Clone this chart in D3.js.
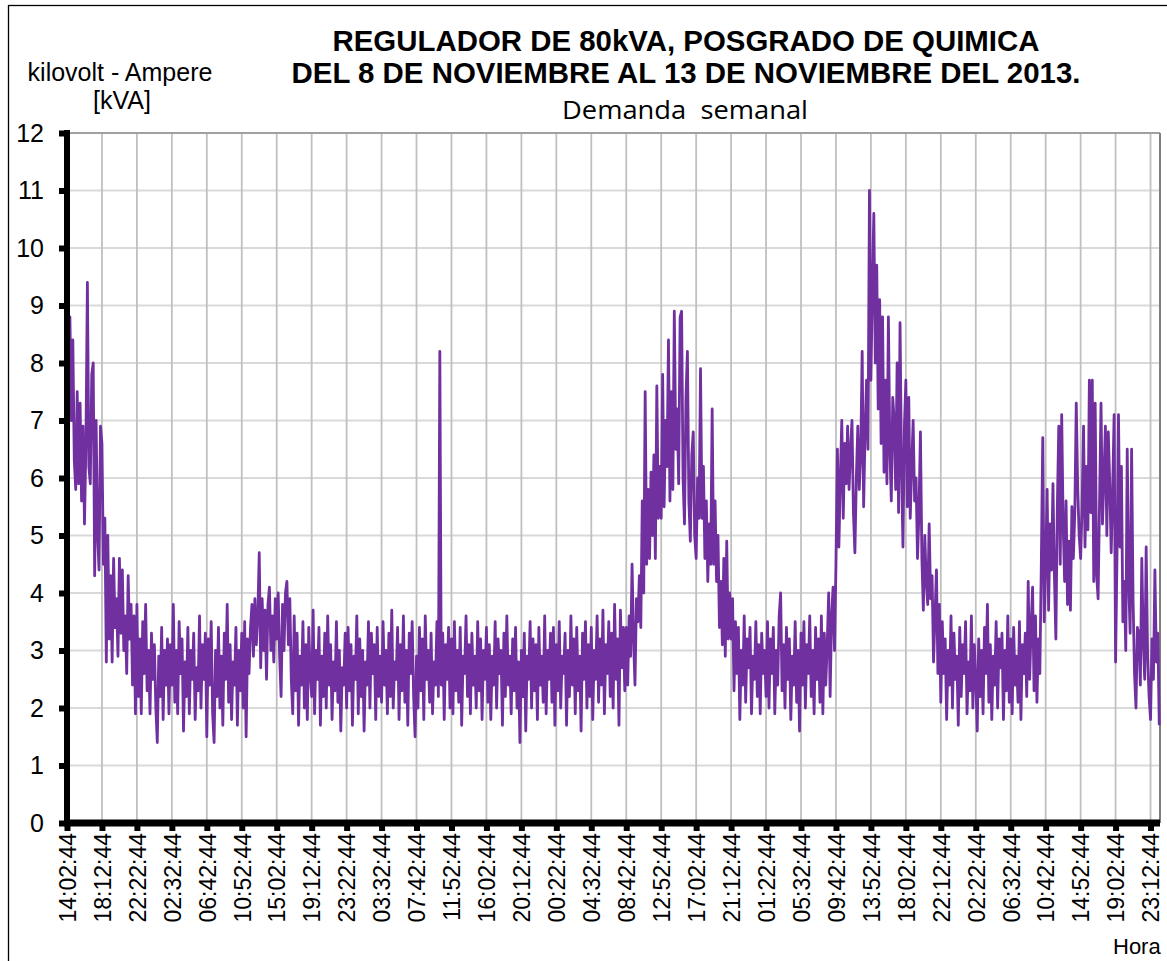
<!DOCTYPE html>
<html>
<head>
    <meta charset="utf-8">
    <title>Regulador 80kVA</title>
    <script src="https://d3js.org/d3.v7.min.js"></script>
    <style>
        body { margin: 0; background: #fff; }
        text { font-family: "Liberation Sans", Arial, sans-serif; fill: #000; }
    </style>
</head>
<body>
    <div id="container"></div>
    <script>
        //------------------------------DATA------------------------------//
        // etiquetas del eje horizontal (una cada 24 muestras)
        var etiquetasHora = ["14:02:44", "18:12:44", "22:22:44", "02:32:44", "06:42:44", "10:52:44",
            "15:02:44", "19:12:44", "23:22:44", "03:32:44", "07:42:44", "11:52:44",
            "16:02:44", "20:12:44", "00:22:44", "04:32:44", "08:42:44", "12:52:44",
            "17:02:44", "21:12:44", "01:22:44", "05:32:44", "09:42:44", "13:52:44",
            "18:02:44", "22:12:44", "02:22:44", "06:32:44", "10:42:44", "14:52:44",
            "19:02:44", "23:12:44"]
        var muestrasPorEtiqueta = 24
        var ticksKva = [0, 1, 2, 3, 4, 5, 6, 7, 8, 9, 10, 11, 12]

        // demanda en kVA (una fila por intervalo entre etiquetas)
        var kvaTramo1 = [
            7.5, 6.5, 8.8, 7.0, 8.4, 6.3, 5.8, 7.5, 5.9, 7.3, 5.6, 6.9, 5.2, 6.6, 9.4, 6.2, 5.9, 7.8, 8.0, 4.3, 7.0, 5.0, 4.4, 6.9,
            6.6, 4.5, 5.3, 2.8, 5.0, 3.2, 4.3, 2.8, 4.6, 3.4, 3.9, 2.9, 4.6, 3.3, 4.4, 3.0, 3.6, 2.6, 4.3, 3.2, 3.8, 2.4, 3.6, 1.9,
            3.8, 2.2, 3.2, 1.9, 3.5, 2.6, 3.8, 2.3, 3.0, 1.9, 3.3, 2.5, 3.1, 2.0, 1.4, 2.9, 2.2, 3.4, 1.8, 3.0, 2.4, 3.2, 1.9, 3.1,
            2.4, 3.8, 2.1, 3.0, 1.9, 3.5, 2.6, 3.2, 1.6, 2.8, 2.2, 3.4, 1.9, 3.0, 2.5, 3.3, 1.8, 2.7, 2.3, 3.6, 2.0, 3.1, 2.5, 3.3,
            1.5, 3.2, 2.4, 3.5, 1.9, 1.4, 3.0, 2.2, 3.4, 2.0, 2.9, 1.7, 3.3, 2.5, 3.8, 2.1, 3.1, 1.8, 2.8, 2.4, 3.4, 1.7, 3.0, 2.3,
            3.3, 2.0, 3.5, 1.5, 3.2, 2.6, 3.4, 3.8, 2.9, 3.9, 3.1, 3.6, 4.7, 2.7, 3.9, 3.0, 3.7, 2.5, 3.8, 4.1, 3.0, 3.6, 2.8, 3.9]
        var kvaTramo2 = [
            3.2, 4.0, 2.9, 2.2, 3.8, 3.0, 4.0, 4.2, 3.1, 3.9, 2.5, 1.9, 3.6, 2.3, 3.3, 1.7, 2.9, 2.4, 3.5, 2.0, 3.1, 1.8, 3.4, 2.6,
            2.2, 3.7, 1.9, 3.0, 2.5, 3.4, 1.7, 2.9, 2.2, 3.3, 2.0, 3.6, 2.4, 3.1, 1.8, 2.8, 2.3, 3.5, 2.1, 3.0, 1.6, 2.7, 2.4, 3.3,
            2.0, 3.4, 2.3, 3.1, 1.7, 2.9, 2.5, 3.6, 1.9, 3.2, 2.2, 3.0, 1.6, 2.8, 2.4, 3.5, 2.0, 3.3, 2.6, 3.1, 1.8, 3.4, 2.2, 2.9,
            2.1, 3.5, 2.4, 3.0, 1.9, 3.3, 2.2, 3.7, 2.0, 2.8, 2.5, 3.4, 1.8, 3.1, 2.3, 3.6, 2.1, 3.0, 1.7, 3.3, 2.6, 3.5, 2.2, 1.5,
            2.9, 2.0, 3.4, 2.3, 3.2, 1.8, 3.6, 2.5, 3.0, 2.1, 3.3, 1.9, 2.8, 2.4, 3.5, 2.2, 8.2, 2.4, 3.3, 1.8, 3.1, 2.5, 3.4, 2.0,
            3.2, 1.9, 3.5, 2.3, 3.0, 2.1, 3.4, 1.7, 2.9, 2.6, 3.6, 2.2, 3.1, 1.9, 3.3, 2.4, 2.9, 2.0, 3.5, 2.3, 3.2, 1.8, 3.0, 2.5]
        var kvaTramo3 = [
            3.4, 2.1, 3.1, 1.8, 2.9, 2.4, 3.5, 2.0, 3.2, 2.6, 3.0, 1.7, 3.3, 2.2, 3.6, 2.4, 2.9, 1.9, 3.2, 2.3, 3.4, 2.0, 2.8, 1.4,
            3.0, 2.2, 3.3, 1.6, 2.9, 2.5, 3.5, 2.0, 3.2, 2.3, 3.1, 1.8, 3.4, 2.4, 2.9, 2.1, 3.6, 1.9, 3.0, 2.5, 3.3, 2.1, 3.4, 1.7,
            3.1, 2.3, 3.5, 2.0, 2.9, 2.6, 3.3, 1.7, 3.0, 2.2, 3.6, 2.4, 3.2, 1.9, 3.4, 2.3, 2.9, 1.6, 3.3, 2.5, 3.5, 2.0, 3.1, 2.2,
            3.4, 1.8, 3.0, 2.5, 3.6, 2.1, 3.2, 2.4, 3.7, 1.9, 3.1, 2.6, 3.5, 2.2, 3.3, 2.0, 3.8, 2.5, 3.2, 1.7, 3.7, 2.7, 3.4, 2.3,
            3.4, 2.4, 3.6, 2.9, 4.5, 3.2, 2.4, 3.9, 3.5, 4.3, 3.4, 5.6, 4.0, 7.5, 4.5, 5.8, 4.6, 6.1, 5.0, 6.4, 4.6, 7.6, 5.3, 6.2,
            5.3, 7.8, 5.5, 7.0, 6.2, 8.4, 5.6, 7.5, 5.8, 8.9, 6.5, 7.2, 5.9, 8.8, 8.9, 6.0, 5.2, 7.4, 8.2, 5.6, 4.9, 6.4, 6.8, 5.0]
        var kvaTramo4 = [
            4.6, 6.0, 5.3, 7.9, 5.3, 6.2, 4.6, 5.6, 4.2, 5.2, 4.5, 7.2, 4.5, 5.6, 4.2, 5.0, 3.4, 4.2, 3.1, 4.6, 2.9, 4.9, 3.2, 4.0,
            3.2, 3.9, 2.3, 3.5, 2.6, 3.4, 1.8, 3.0, 2.4, 3.6, 2.1, 3.2, 2.7, 3.4, 1.9, 2.9, 2.5, 3.5, 2.2, 3.1, 1.9, 3.3, 2.6, 3.0,
            2.2, 3.5, 2.0, 3.2, 2.6, 3.4, 1.9, 3.0, 2.4, 3.6, 4.0, 2.3, 3.1, 2.0, 3.4, 2.5, 3.2, 1.8, 2.9, 2.4, 3.5, 2.1, 3.0, 1.6,
            3.3, 2.4, 3.5, 2.0, 3.1, 2.6, 3.6, 2.2, 3.0, 1.9, 3.4, 2.5, 3.2, 2.1, 3.6, 1.9, 3.3, 2.4, 3.1, 4.0, 2.2, 3.6, 4.1, 3.0,
            4.5, 6.5, 4.8, 6.0, 7.0, 5.3, 6.6, 5.9, 6.9, 5.8, 6.5, 7.0, 5.4, 4.7, 6.0, 6.9, 5.8, 6.4, 8.2, 5.5, 6.8, 7.7, 6.5, 11.0,
            7.7, 9.3, 10.6, 8.0, 9.7, 7.2, 9.1, 6.6, 8.8, 6.1, 7.7, 5.9, 8.8, 6.5, 5.6, 7.4, 7.0, 5.8, 8.0, 5.4, 8.7, 6.2, 4.8, 6.9]
        var kvaTramo5 = [
            7.7, 5.5, 7.4, 5.3, 6.2, 7.0, 5.6, 6.0, 4.6, 5.4, 6.8, 4.6, 3.7, 5.0, 4.2, 3.8, 5.2, 3.9, 4.3, 2.8, 3.6, 4.4, 2.6, 3.8,
            2.1, 3.5, 2.6, 3.2, 1.8, 3.0, 2.4, 3.6, 2.0, 3.3, 2.5, 2.9, 1.7, 3.4, 2.2, 3.1, 2.6, 3.5, 1.9, 2.8, 2.3, 3.6, 2.0, 3.1,
            2.5, 1.6, 3.2, 2.2, 3.0, 1.9, 3.4, 2.6, 3.8, 2.1, 3.1, 1.8, 2.9, 2.4, 3.5, 2.0, 3.2, 2.7, 3.3, 1.8, 3.0, 2.3, 3.6, 2.1,
            3.2, 1.9, 3.4, 2.4, 2.9, 2.1, 3.5, 1.8, 3.1, 2.6, 3.3, 2.2, 4.2, 2.5, 3.4, 4.1, 2.3, 3.6, 2.1, 3.2, 2.6, 4.5, 6.7, 3.5,
            4.5, 5.8, 3.7, 5.2, 4.4, 5.9, 4.3, 3.2, 5.5, 6.9, 4.5, 7.1, 5.2, 4.2, 5.6, 3.8, 4.9, 3.7, 5.5, 4.6, 5.4, 7.3, 5.8, 5.0,
            4.6, 5.5, 6.9, 4.8, 6.2, 5.1, 7.7, 5.4, 7.7, 4.2, 7.3, 4.3, 3.9, 5.6, 7.3, 5.2, 6.0, 6.9, 5.0, 6.8, 5.9, 4.7, 5.8, 7.1,
            2.8, 4.7, 7.1, 4.8, 6.2, 3.5, 4.2, 3.0, 6.5, 4.2, 3.3, 6.5, 3.9, 2.6, 2.0, 3.4, 3.3, 2.4, 4.6, 3.2, 2.5, 4.8, 2.9, 2.2,
            1.8, 3.2, 2.5, 4.4, 2.8, 3.3, 1.7]

        var kva = kvaTramo1.concat(kvaTramo2, kvaTramo3, kvaTramo4, kvaTramo5)

        //-----------------------------SVG------------------------------//
        var width = 1167, height = 961
        var plot = { left: 67, right: 1160, top: 133, bottom: 823 }

        var svg = d3.select("#container").append("svg")
            .attr("width", width)
            .attr("height", height)

        // marco exterior
        svg.append("rect")
            .attr("x", 8.5).attr("y", 5.5)
            .attr("width", 1200).attr("height", 1000)
            .attr("fill", "none")
            .attr("stroke", "#000")
            .attr("stroke-width", 1.3)

        //----------------------------SCALES----------------------------//
        var xScale = d3.scaleLinear()
            .domain([0, 750.5])
            .range([plot.left, plot.right])
        var yScale = d3.scaleLinear()
            .domain([0, 12])
            .range([plot.bottom, plot.top])

        var xTicks = etiquetasHora.map(function (d, i) { return i * muestrasPorEtiqueta })

        //----------------------------GRIDS-----------------------------//
        svg.append("g")
            .selectAll("line")
            .data(ticksKva.filter(function (d) { return d > 0 && d < 12 }))
            .join("line")
            .attr("x1", plot.left).attr("x2", plot.right)
            .attr("y1", function (d) { return yScale(d) })
            .attr("y2", function (d) { return yScale(d) })
            .attr("stroke", "#d9d9d9")
            .attr("stroke-width", 1.8)

        svg.append("g")
            .selectAll("line")
            .data(xTicks.slice(1))
            .join("line")
            .attr("x1", function (d) { return xScale(d) })
            .attr("x2", function (d) { return xScale(d) })
            .attr("y1", plot.top).attr("y2", plot.bottom)
            .attr("stroke", "#c0c0c0")
            .attr("stroke-width", 1.8)

        // borde superior y derecho del area de trazado
        svg.append("line")
            .attr("x1", plot.left).attr("x2", plot.right)
            .attr("y1", yScale(12)).attr("y2", yScale(12))
            .attr("stroke", "#a0a0a0").attr("stroke-width", 2)
        svg.append("line")
            .attr("x1", plot.right).attr("x2", plot.right)
            .attr("y1", plot.top).attr("y2", plot.bottom)
            .attr("stroke", "#7f7f7f").attr("stroke-width", 2)

        //----------------------------Plots-----------------------------//
        var linea = d3.line()
            .x(function (d, i) { return xScale(i) })
            .y(function (d) { return yScale(d) })

        svg.append("path")
            .datum(kva)
            .attr("d", linea)
            .attr("fill", "none")
            .attr("stroke", "#7030a0")
            .attr("stroke-width", 2.8)
            .attr("stroke-linejoin", "round")

        //-----------------------------AXES-----------------------------//
        var yaxis = d3.axisLeft(yScale)
            .tickValues(ticksKva)
            .tickSize(8)
            .tickSizeOuter(0)
            .tickPadding(15)

        var gy = svg.append("g")
            .attr("transform", "translate(" + plot.left + ",0)")
            .call(yaxis)
        gy.select(".domain").attr("stroke", "#000").attr("stroke-width", 6)
            .attr("d", "M0," + (plot.top - 3) + "V" + (plot.bottom + 3))
        gy.selectAll(".tick line").attr("stroke", "#000").attr("stroke-width", 6)
        gy.selectAll(".tick text")
            .style("font-family", "'Liberation Sans', Arial, sans-serif")
            .style("font-size", "25px")
            .attr("fill", "#000")

        var xaxis = d3.axisBottom(xScale)
            .tickValues(xTicks)
            .tickFormat(function (d) { return etiquetasHora[d / muestrasPorEtiqueta] })
            .tickSize(8)
            .tickSizeOuter(0)

        var gx = svg.append("g")
            .attr("transform", "translate(0," + plot.bottom + ")")
            .call(xaxis)
        gx.select(".domain").attr("stroke", "#000").attr("stroke-width", 7)
            .attr("d", "M" + (plot.left - 3) + ",0H" + plot.right)
        gx.selectAll(".tick line").attr("stroke", "#000").attr("stroke-width", 6)
        gx.selectAll(".tick text")
            .attr("transform", "rotate(-90)")
            .attr("x", -10)
            .attr("y", 0)
            .attr("dy", "0.36em")
            .style("text-anchor", "end")
            .style("font-family", "'Liberation Sans', Arial, sans-serif")
            .style("font-size", "23px")
            .attr("fill", "#000")

        //----------------------------TEXTOS----------------------------//
        svg.append("text")
            .attr("x", 686).attr("y", 51)
            .attr("text-anchor", "middle")
            .attr("textLength", 707)
            .attr("lengthAdjust", "spacingAndGlyphs")
            .style("font-size", "29px").style("font-weight", "bold")
            .text("REGULADOR DE 80kVA, POSGRADO DE QUIMICA")

        svg.append("text")
            .attr("x", 686).attr("y", 83)
            .attr("text-anchor", "middle")
            .attr("textLength", 789)
            .attr("lengthAdjust", "spacingAndGlyphs")
            .style("font-size", "29px").style("font-weight", "bold")
            .text("DEL 8 DE NOVIEMBRE AL 13 DE NOVIEMBRE DEL 2013.")

        svg.append("text")
            .attr("x", 685).attr("y", 119)
            .attr("text-anchor", "middle")
            .attr("textLength", 246)
            .attr("lengthAdjust", "spacingAndGlyphs")
            .style("font-family", "'Open Sans', sans-serif")
            .style("font-size", "25px")
            .style("white-space", "pre")
            .text("Demanda  semanal")

        svg.append("text")
            .attr("x", 120).attr("y", 81)
            .attr("text-anchor", "middle")
            .style("font-size", "25px")
            .text("kilovolt - Ampere")

        svg.append("text")
            .attr("x", 122).attr("y", 109)
            .attr("text-anchor", "middle")
            .style("font-size", "25px")
            .text("[kVA]")

        svg.append("text")
            .attr("x", 1113).attr("y", 954)
            .style("font-size", "22px")
            .text("Hora")
    </script>
</body>
</html>
